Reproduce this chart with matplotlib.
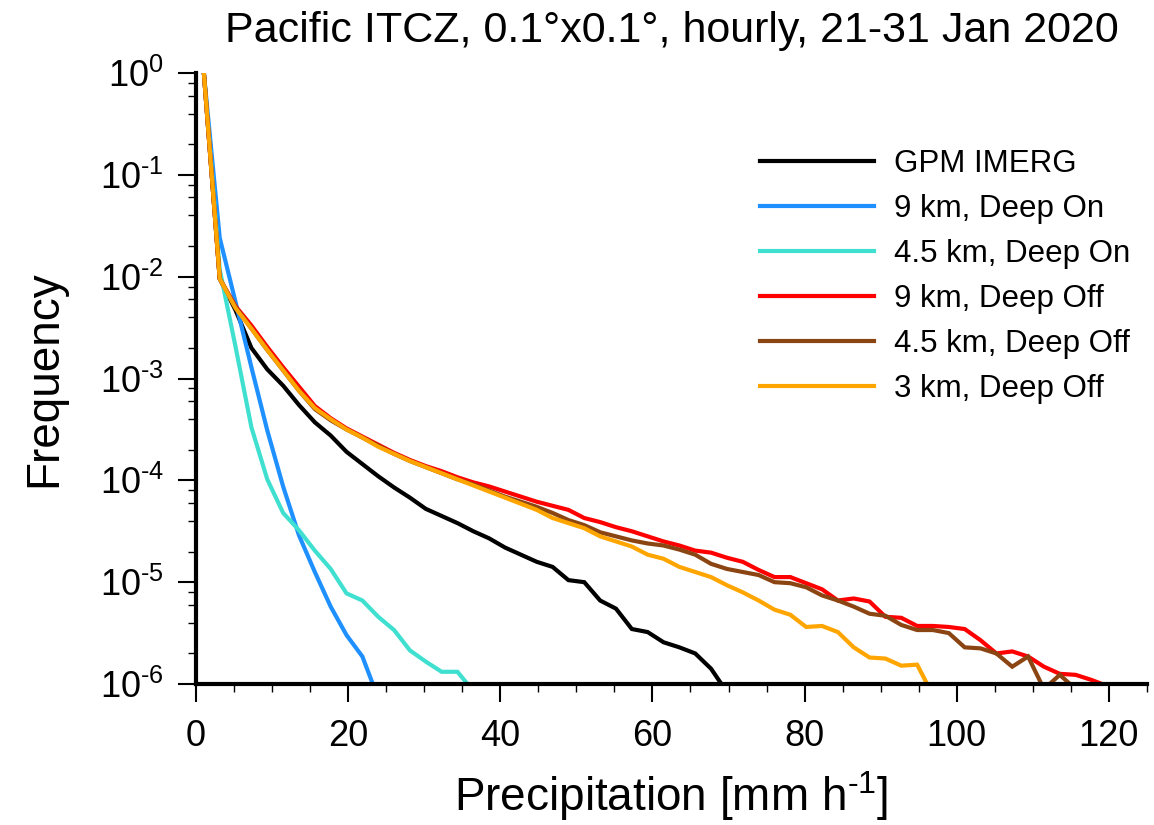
import numpy as np
import matplotlib
matplotlib.use('Agg')
import matplotlib.pyplot as plt
from matplotlib.ticker import LogLocator, MultipleLocator, NullFormatter, FuncFormatter

plt.rcParams['font.family'] = ['Liberation Sans', 'DejaVu Sans']
plt.rcParams['mathtext.fontset'] = 'custom'
plt.rcParams['mathtext.rm'] = 'Liberation Sans'
plt.rcParams['mathtext.it'] = 'Liberation Sans:italic'

# 60 bins from 0 to 125 mm/h, values plotted at bin centres
BIN_EDGES = np.linspace(0, 125, 61)
bin_centres = 0.5 * (BIN_EDGES[:-1] + BIN_EDGES[1:])

labels = ['GPM IMERG', '9 km, Deep On', '4.5 km, Deep On',
          '9 km, Deep Off', '4.5 km, Deep Off', '3 km, Deep Off']
colors = ['black', '#1e90ff', '#40e0d0', '#ff0000', '#8b4513', '#ffa500']

# log10(frequency), one value per bin
gpm_imerg = [0, -2.02, -2.33, -2.70, -2.91, -3.07, -3.26, -3.43, -3.56, -3.72,
             -3.84, -3.96, -4.07, -4.17, -4.28, -4.35, -4.42, -4.50, -4.57, -4.66,
             -4.73, -4.80, -4.85, -4.98, -5.00, -5.18, -5.26, -5.46, -5.49, -5.59,
             -5.64, -5.70, -5.85, -6.08]
km9_deep_on = [0, -1.62, -2.25, -2.89, -3.51, -4.06, -4.54, -4.90, -5.24, -5.52,
               -5.73, -6.14]
km45_deep_on = [0, -1.93, -2.69, -3.48, -3.99, -4.32, -4.49, -4.69, -4.87, -5.11,
                -5.18, -5.34, -5.47, -5.67, -5.78, -5.88, -5.88, -6.07]
km9_deep_off = [0, -2.02, -2.29, -2.48, -2.69, -2.89, -3.08, -3.27, -3.39, -3.49,
                -3.57, -3.65, -3.73, -3.80, -3.86, -3.91, -3.97, -4.02, -4.06, -4.11,
                -4.16, -4.21, -4.25, -4.29, -4.37, -4.41, -4.46, -4.50, -4.55, -4.60,
                -4.64, -4.69, -4.71, -4.76, -4.80, -4.88, -4.95, -4.95, -5.01, -5.07,
                -5.18, -5.16, -5.19, -5.34, -5.35, -5.43, -5.43, -5.44, -5.46, -5.57,
                -5.70, -5.68, -5.73, -5.83, -5.90, -5.91, -5.96, -6.02]
km45_deep_off = [0, -2.02, -2.30, -2.51, -2.72, -2.92, -3.12, -3.30, -3.41, -3.50,
                 -3.58, -3.66, -3.74, -3.81, -3.87, -3.93, -3.99, -4.04, -4.10, -4.16,
                 -4.21, -4.26, -4.32, -4.39, -4.44, -4.51, -4.55, -4.59, -4.62, -4.64,
                 -4.68, -4.73, -4.82, -4.87, -4.90, -4.93, -5.00, -5.01, -5.05, -5.13,
                 -5.18, -5.24, -5.31, -5.33, -5.42, -5.47, -5.47, -5.50, -5.64, -5.65,
                 -5.70, -5.83, -5.73, -6.05, -5.91, -6.05]
km3_deep_off = [0, -2.02, -2.31, -2.51, -2.72, -2.92, -3.12, -3.29, -3.40, -3.50,
                -3.58, -3.67, -3.74, -3.81, -3.87, -3.93, -3.99, -4.05, -4.11, -4.17,
                -4.23, -4.29, -4.37, -4.42, -4.47, -4.55, -4.60, -4.65, -4.73, -4.77,
                -4.85, -4.90, -4.95, -5.03, -5.10, -5.18, -5.27, -5.32, -5.44, -5.43,
                -5.49, -5.64, -5.74, -5.75, -5.82, -5.81, -6.11]

series = [gpm_imerg, km9_deep_on, km45_deep_on, km9_deep_off, km45_deep_off, km3_deep_off]

fig = plt.figure(figsize=(11.54, 8.25), dpi=100)
ax = fig.add_axes([0.1698, 0.1709, 0.8241, 0.7406])

for vals, lab, col in zip(series, labels, colors):
    n = len(vals)
    ax.plot(bin_centres[:n], 10.0 ** np.array(vals), color=col, lw=3, label=lab,
            solid_joinstyle='miter', zorder=2)

ax.set_yscale('log')
ax.set_xlim(0, 125)
ax.set_ylim(1e-6, 1)

def pow_label(v, pos):
    e = int(round(np.log10(v)))
    if e < 0:
        return r'$\mathdefault{10^{\text{-}%d}}$' % (-e)
    return r'$\mathdefault{10^{%d}}$' % e

ax.xaxis.set_major_locator(MultipleLocator(20))
ax.xaxis.set_minor_locator(MultipleLocator(5))
ax.yaxis.set_major_locator(LogLocator(base=10, numticks=10))
ax.yaxis.set_major_formatter(FuncFormatter(pow_label))
ax.yaxis.set_minor_locator(LogLocator(base=10, subs=[2, 4, 6, 8], numticks=20))
ax.yaxis.set_minor_formatter(NullFormatter())

for side in ['top', 'right']:
    ax.spines[side].set_visible(False)
for side in ['left', 'bottom']:
    ax.spines[side].set_linewidth(3)
    ax.spines[side].set_zorder(5)

ax.tick_params(which='major', direction='out', length=13, width=1.5, labelsize=26)
ax.tick_params(which='minor', direction='out', length=6, width=1)
ax.tick_params(axis='x', which='major', pad=12)
ax.tick_params(axis='y', which='major', pad=10)

ax.set_title('Pacific ITCZ, 0.1°x0.1°, hourly, 21-31 Jan 2020', fontsize=31, pad=22)
ax.set_ylabel('Frequency', fontsize=33)
ax.yaxis.set_label_coords(-0.136, 0.5)
ax.set_xlabel(r'Precipitation [mm h$^{\text{-}1}$]', fontsize=33)
ax.xaxis.set_label_coords(0.5, -0.14)

leg = ax.legend(loc='upper left', bbox_to_anchor=(0.593, 0.876), frameon=False,
                fontsize=22.5, handlelength=3.65, handletextpad=0.63, labelspacing=0.48,
                borderaxespad=0, borderpad=0)
for line in leg.get_lines():
    line.set_linewidth(3)

fig.savefig('out.png', dpi=100)
